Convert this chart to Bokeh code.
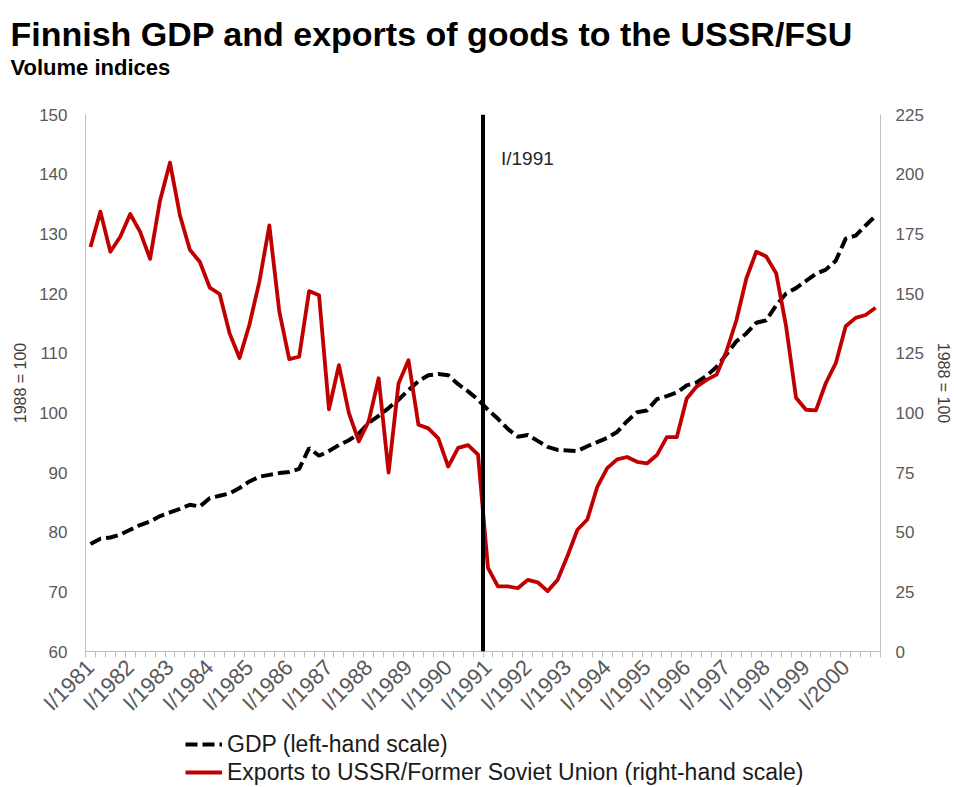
import math
from bokeh.plotting import figure
from bokeh.layouts import column
from bokeh.models import (Range1d, LinearAxis, FixedTicker, Span, Label,
                          Legend, LegendItem)
from bokeh.embed import file_html
from bokeh.resources import INLINE

# ---------------- data (quarterly, I/1981 ... IV/2000) ----------------
year_labels = ["I/1981", "I/1982", "I/1983", "I/1984", "I/1985", "I/1986",
               "I/1987", "I/1988", "I/1989", "I/1990", "I/1991", "I/1992",
               "I/1993", "I/1994", "I/1995", "I/1996", "I/1997", "I/1998",
               "I/1999", "I/2000"]

# GDP volume index, 1988 = 100 (left-hand scale)
gdp = [78.0, 78.9, 79.1, 79.6, 80.4, 81.2, 81.8, 82.7,
       83.3, 83.9, 84.6, 84.3, 85.7, 86.1, 86.5, 87.4,
       88.5, 89.3, 89.6, 89.9, 90.1, 90.6, 94.1, 92.8,
       93.6, 94.6, 95.4, 96.5, 98.3, 99.5, 100.8, 102.2,
       103.8, 105.3, 106.3, 106.5, 106.3, 104.8, 103.6, 102.2,
       100.5, 99.0, 97.3, 96.0, 96.3, 95.3, 94.3, 93.8,
       93.7, 93.6, 94.4, 95.1, 95.8, 96.8, 98.6, 100.1,
       100.4, 102.3, 102.8, 103.4, 104.6, 105.1, 106.2, 107.7,
       109.8, 112.0, 113.3, 115.1, 115.5, 118.0, 120.0, 120.9,
       122.1, 123.3, 124.0, 125.5, 129.2, 129.7, 131.4, 133.0]

# Exports of goods to USSR/FSU volume index, 1988 = 100 (right-hand scale)
exports = [169.5, 184.3, 167.5, 173.8, 183.3, 175.8, 164.5, 189.0,
           204.8, 182.8, 168.3, 163.3, 152.5, 149.8, 133.3, 123.0,
           137.0, 155.0, 178.5, 142.5, 122.5, 123.5, 151.0, 149.3,
           101.5, 120.0, 100.0, 88.0, 96.5, 114.5, 75.0, 112.3,
           122.0, 95.0, 93.5, 89.3, 77.5, 85.3, 86.5, 82.5,
           35.0, 27.3, 27.3, 26.5, 30.0, 29.0, 25.3, 30.0,
           40.0, 51.0, 55.3, 69.0, 76.8, 80.5, 81.5, 79.5,
           78.8, 82.3, 89.8, 89.8, 106.0, 111.0, 113.8, 116.0,
           125.8, 138.8, 156.3, 167.5, 165.5, 158.5, 136.3, 106.3,
           101.3, 101.0, 112.5, 120.8, 136.3, 139.8, 141.0, 144.0]

left_ticks = [60, 70, 80, 90, 100, 110, 120, 130, 140, 150]
right_ticks = [0, 25, 50, 75, 100, 125, 150, 175, 200, 225]

title_text = "Finnish GDP and exports of goods to the USSR/FSU"
subtitle_text = "Volume indices"
gdp_label = "GDP (left-hand scale)"
exp_label = "Exports to USSR/Former Soviet Union (right-hand scale)"

n_q = len(gdp)
xq = [i + 0.5 for i in range(n_q)]           # category centres
year_pos = [4 * k + 0.5 for k in range(len(year_labels))]
break_q = 40                                  # boundary before I/1991

FONT = "Liberation Sans"
W = 954
H_TOP, H_MAIN, H_LEG = 80, 647, 60


def bare(h):
    f = figure(width=W, height=h, x_range=Range1d(0, W), y_range=Range1d(0, h),
               output_backend="svg", toolbar_location=None, title=None,
               x_axis_type=None, y_axis_type=None,
               min_border_left=0, min_border_right=0,
               min_border_top=0, min_border_bottom=0)
    f.frame_align = False
    f.outline_line_color = None
    f.xgrid.visible = False
    f.ygrid.visible = False
    return f


# ---------------- title block ----------------
pt = bare(H_TOP)
pt.add_layout(Label(x=10, y=H_TOP - 33, text=title_text, text_font=FONT,
                    text_font_size="34px", text_font_style="bold",
                    text_color="black", text_baseline="alphabetic"))
pt.add_layout(Label(x=10, y=H_TOP - 66.5, text=subtitle_text, text_font=FONT,
                    text_font_size="22px", text_font_style="bold",
                    text_color="black", text_baseline="alphabetic"))

# ---------------- main chart ----------------
p = figure(width=W, height=H_MAIN, title=None,
           x_range=Range1d(0, n_q), y_range=Range1d(60, 150),
           output_backend="svg", toolbar_location=None,
           min_border_left=85, min_border_right=74,
           min_border_top=34, min_border_bottom=75,
           x_axis_type=None, y_axis_type=None)
p.frame_align = False
p.outline_line_color = None
p.extra_y_ranges = {"right": Range1d(0, 225)}

xaxis = LinearAxis(ticker=FixedTicker(ticks=year_pos,
                                      minor_ticks=list(range(n_q + 1))))
xaxis.major_label_overrides = {pos: lab for pos, lab in zip(year_pos, year_labels)}
xaxis.major_label_orientation = math.pi / 4
xaxis.major_tick_line_color = None
xaxis.major_tick_out = 0
xaxis.major_tick_in = 0
xaxis.minor_tick_line_color = "#bfbfbf"
xaxis.minor_tick_out = 6
xaxis.minor_tick_in = 0
xaxis.axis_line_color = "#bfbfbf"
xaxis.major_label_standoff = 6
xaxis.major_label_text_font = FONT
xaxis.major_label_text_font_size = "22px"
xaxis.major_label_text_color = "#595959"
p.add_layout(xaxis, "below")

yleft = LinearAxis(ticker=FixedTicker(ticks=left_ticks), axis_label="1988 = 100")
yright = LinearAxis(y_range_name="right", ticker=FixedTicker(ticks=right_ticks),
                    axis_label="1988 = 100")
for ax, st, lst in ((yleft, 18, 7), (yright, 15, 8)):
    ax.major_tick_line_color = None
    ax.minor_tick_line_color = None
    ax.major_tick_out = 0
    ax.major_tick_in = 0
    ax.axis_line_color = "#bfbfbf"
    ax.major_label_standoff = st
    ax.major_label_text_font = FONT
    ax.major_label_text_font_size = "17px"
    ax.major_label_text_color = "#595959"
    ax.axis_label_standoff = lst
    ax.axis_label_text_font = FONT
    ax.axis_label_text_font_size = "16px"
    ax.axis_label_text_font_style = "normal"
    ax.axis_label_text_color = "#404040"
p.add_layout(yleft, "left")
p.add_layout(yright, "right")

p.xgrid.visible = False
p.ygrid.ticker = FixedTicker(ticks=left_ticks)
p.ygrid.grid_line_color = "#bfbfbf"
p.ygrid.grid_line_dash = "6 4"
p.ygrid.grid_line_width = 1.2

GDP_STYLE = dict(line_color="black", line_width=4, line_dash="12 5")
EXP_STYLE = dict(line_color="#c00000", line_width=3.8, line_join="round")

p.line(xq, gdp, **GDP_STYLE)
p.line(xq, exports, y_range_name="right", **EXP_STYLE)

p.add_layout(Span(location=break_q, dimension="height", line_color="black",
                  line_width=4))
p.add_layout(Label(x=break_q, y=150, x_offset=18, y_offset=-44,
                   text="I/1991", text_font=FONT, text_font_size="19px",
                   text_color="#262626", text_baseline="alphabetic"))

# ---------------- legend block ----------------
pl = bare(H_LEG)
# legend proxies: the same series mapped onto a range that lies off-canvas
pl.extra_y_ranges = {"off": Range1d(1000, 1001)}
lg_gdp = pl.line(xq, gdp, y_range_name="off", **GDP_STYLE)
lg_exp = pl.line(xq, exports, y_range_name="off", **EXP_STYLE)
legend = Legend(items=[LegendItem(label=gdp_label, renderers=[lg_gdp]),
                       LegendItem(label=exp_label, renderers=[lg_exp])],
                location=(185, 1), orientation="vertical",
                glyph_width=37, glyph_height=28, label_height=28,
                label_standoff=5, spacing=0, padding=0, margin=0,
                border_line_color=None, background_fill_alpha=0,
                label_text_font=FONT, label_text_font_size="23px",
                label_text_color="#1a1a1a")
pl.add_layout(legend)

layout = column(pt, p, pl, spacing=0)
open("out.html", "w").write(file_html(layout, INLINE))
